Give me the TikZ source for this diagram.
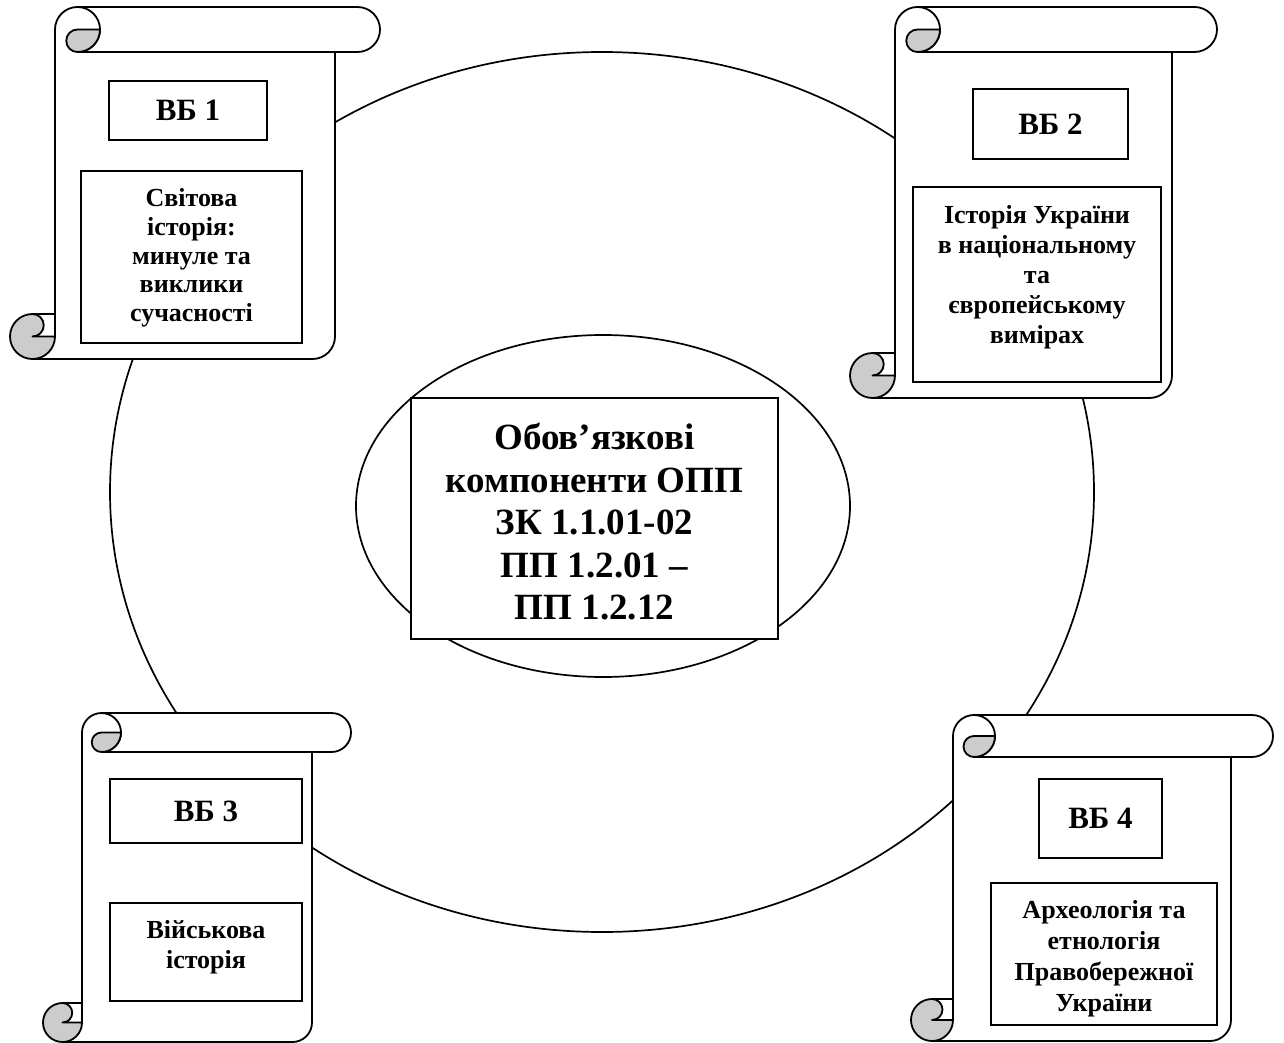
\documentclass[tikz,border=0pt]{standalone}
\usepackage{fontspec}
\setmainfont{Liberation Serif}
\definecolor{curl}{RGB}{204,204,204}
\newcommand\drawscroll[5]{%
\pgfmathsetmacro\scT{#2}\pgfmathsetmacro\scR{#3}\pgfmathsetmacro\scB{#4}%
\pgfmathsetmacro\scc{#5}\pgfmathsetmacro\sch{#5/2}\pgfmathsetmacro\scq{#5/4}%
\pgfmathsetmacro\scTx{#1+1.5*#5}\pgfmathsetmacro\scTy{#2+#5/2}%
\pgfmathsetmacro\scBx{#1+#5/2}\pgfmathsetmacro\scBy{#4-#5/2}%
\pgfmathsetmacro\scLb{#1+#5}\pgfmathsetmacro\scRb{#3-#5}%
\fill[white] (\scLb,\scTy) arc[start angle=180,end angle=270,radius=\sch] -- (\scR-\sch,\scT) arc[start angle=270,end angle=450,radius=\sch] -- (\scRb,\scT+\scc) -- (\scRb,\scBy) arc[start angle=0,end angle=90,radius=\sch] -- (\scBx,\scB) arc[start angle=90,end angle=270,radius=\sch] -- (\scLb,\scB-\scc) -- cycle;
\draw[scrollline] (\scLb,\scBy) -- (\scLb,\scTy) arc[start angle=180,end angle=270,radius=\sch] -- (\scR-\sch,\scT) arc[start angle=270,end angle=450,radius=\sch] -- (\scTx,\scT+\scc);
\draw[scrollline] (\scTx,\scT) arc[start angle=270,end angle=450,radius=\sch];
\filldraw[scrollline,fill=curl] (\scTx,\scTy) -- (\scTx+\sch,\scTy) arc[start angle=0,end angle=90,radius=\sch] arc[start angle=90,end angle=270,radius=\scq] -- cycle;
\draw[scrollline] (\scRb,\scT+\scc) -- (\scRb,\scBy) arc[start angle=0,end angle=90,radius=\sch] -- (\scBx,\scB);
\filldraw[scrollline,fill=curl] (\scBx,\scB-\scc) arc[start angle=270,end angle=0,radius=\sch] -- (\scBx,\scBy) arc[start angle=90,end angle=-90,radius=\scq] -- cycle;
\draw[scrollline] (\scBx,\scB-\scc) -- (\scLb,\scB-\scc);
}
\begin{document}
\begin{tikzpicture}[x=1pt,y=-1pt,
  scrollline/.style={line width=1.8pt,line join=round},
  ring/.style={line width=1.7pt},
  box/.style={draw,line width=1.7pt,fill=white,inner sep=0pt},
  vbtext/.style={font=\bfseries\fontsize{31}{36}\selectfont,inner sep=0pt},
  bodytext/.style={font=\bfseries\fontsize{26}{30}\selectfont,align=center,inner sep=0pt},
  centertext/.style={font=\bfseries\fontsize{37}{42.5}\selectfont,align=center,inner sep=0pt}]
\useasboundingbox (0,0) rectangle (1284,1043);
\fill[white] (0,0) rectangle (1284,1043);
% rings
\draw[ring] (602,492) ellipse[x radius=492,y radius=440];
\draw[ring] (603,506) ellipse[x radius=247,y radius=171];
% scrolls
\drawscroll{10}{7}{380}{359}{45}
\drawscroll{850}{7}{1217}{398}{45}
\drawscroll{43}{713}{351}{1042}{39}
\drawscroll{911}{715}{1273}{1041}{42}
% centre
\node[box,minimum width=367pt,minimum height=241pt] (cbox) at (594.5,518.5) {};
\node[centertext] (ctext) at (594.5,522) {Обов’язкові\\компоненти ОПП\\ЗК 1.1.01-02\\ПП 1.2.01 –\\ПП 1.2.12};
% scroll 1
\node[box,minimum width=158pt,minimum height=59pt] (vb1) at (188,110.5) {};
\node[vbtext] (vb1t) at (188,110.5) {ВБ 1};
\node[box,minimum width=221pt,minimum height=172pt] (b1) at (191.5,257) {};
\node[bodytext,font=\bfseries\fontsize{26}{28.7}\selectfont] (t1) at (191.5,258) {Світова\\історія:\\минуле та\\виклики\\сучасності};
% scroll 2
\node[box,minimum width=155pt,minimum height=70pt] (vb2) at (1050.5,124) {};
\node[vbtext] (vb2t) at (1050.5,124) {ВБ 2};
\node[box,minimum width=248pt,minimum height=195pt] (b2) at (1037,284.5) {};
\node[bodytext] (t2) at (1037,277) {Історія України\\в національному\\та\\європейському\\вимірах};
% scroll 3
\node[box,minimum width=192pt,minimum height=64pt] (vb3) at (206,811) {};
\node[vbtext] (vb3t) at (206,811) {ВБ 3};
\node[box,minimum width=192pt,minimum height=98pt] (b3) at (206,952) {};
\node[bodytext] (t3) at (206,947) {Військова\\історія};
% scroll 4
\node[box,minimum width=123pt,minimum height=79pt] (vb4) at (1100.5,818.5) {};
\node[vbtext] (vb4t) at (1100.5,818.5) {ВБ 4};
\node[box,minimum width=226pt,minimum height=142pt] (b4) at (1104,954) {};
\node[bodytext,font=\bfseries\fontsize{26}{31}\selectfont] (t4) at (1104,959) {Археологія та\\етнологія\\Правобережної\\України};
\end{tikzpicture}
\end{document}
